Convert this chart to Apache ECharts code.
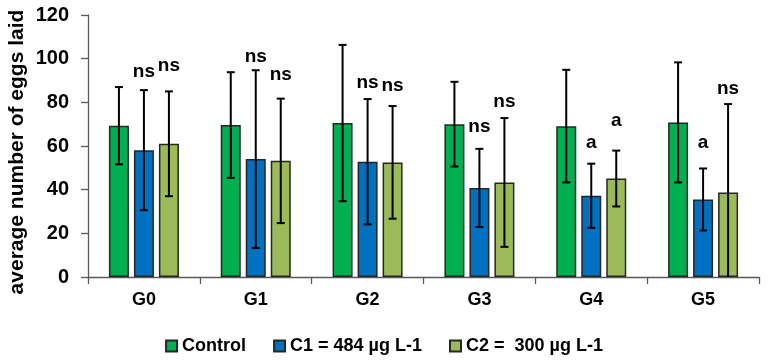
<!DOCTYPE html>
<html><head><meta charset="utf-8">
<script src="https://cdn.jsdelivr.net/npm/echarts@6/dist/echarts.min.js"></script>
<style>html,body{margin:0;padding:0;background:#fff}#c{width:768px;height:363px}</style>
</head><body><div id="c"></div>
<script>
var categories = ['G0','G1','G2','G3','G4','G5'];
var seriesNames = ['Control','C1 = 484 µg L-1','C2 =  300 µg L-1'];
var yTitle = 'average number of eggs laid';
var controlMean = [69.3, 69.6, 70.5, 70.0, 69.1, 70.8];
var controlErr  = [17.7, 24.2, 35.8, 19.4, 25.8, 27.5];
var c1Mean = [58.1, 54.0, 52.8, 40.8, 37.2, 35.5];
var c1Err  = [27.5, 40.7, 28.7, 17.9, 14.7, 14.2];
var c2Mean = [61.0, 53.2, 52.5, 43.3, 45.1, 38.7];
var c2Err  = [24.0, 28.5, 25.8, 29.5, 12.8, 40.5];
var c1Sig = ['ns','ns','ns','ns','a','a'];
var c2Sig = ['ns','ns','ns','ns','a','ns'];
var c1SigY = [93.9, 100.8, 88.9, 68.7, 61.3, 61.3];
var c2SigY = [96.7, 92.5, 87.5, 80.1, 71.4, 86.1];
var yTicks = [0, 20, 40, 60, 80, 100, 120];

var colors = ['#00B050', '#0070C0', '#9BBB59'];
var BAR_W = 20, GAP = 5;
var means = [controlMean, c1Mean, c2Mean];
var errs = [controlErr, c1Err, c2Err];
var FONT = '"Liberation Sans", Arial, sans-serif';

function offsetFor(k){ return (k - 1) * (BAR_W + GAP); }

var series = [];
for (var k = 0; k < 3; k++) {
  series.push({
    name: seriesNames[k], type: 'bar', data: means[k], barWidth: BAR_W, barGap: '25%',
    itemStyle: {color: colors[k], borderColor: '#262626', borderWidth: 1.5},
    z: 2
  });
}
for (var k = 0; k < 3; k++) {
  (function(k){
    var d = means[k].map(function(m, i){ return [i, m, errs[k][i]]; });
    series.push({
      type: 'custom', data: d, z: 5, clip: true, silent: true,
      renderItem: function(params, api){
        var i = api.value(0), m = api.value(1), e = api.value(2);
        var top = api.coord([i, m + e]);
        var bot = api.coord([i, m - e]);
        var x = top[0] + offsetFor(k);
        var cw = 4;
        return {type: 'group', children: [
          {type: 'line', shape: {x1: x, y1: top[1], x2: x, y2: bot[1]}, style: {stroke: '#000', lineWidth: 2}},
          {type: 'line', shape: {x1: x - cw, y1: top[1], x2: x + cw, y2: top[1]}, style: {stroke: '#000', lineWidth: 2}},
          {type: 'line', shape: {x1: x - cw, y1: bot[1], x2: x + cw, y2: bot[1]}, style: {stroke: '#000', lineWidth: 2}}
        ]};
      }
    });
  })(k);
}
var sigs = [[c1Sig, c1SigY, 1], [c2Sig, c2SigY, 2]];
sigs.forEach(function(s){
  var d = s[0].map(function(t, i){ return [i, s[1][i], t]; });
  series.push({
    type: 'custom', data: d, z: 6, silent: true,
    renderItem: function(params, api){
      var i = api.value(0), y = api.value(1);
      var p = api.coord([i, y]);
      return {type: 'text', x: p[0] + offsetFor(s[2]), y: p[1],
        style: {text: d[params.dataIndex][2], fill: '#000', font: 'bold 19px ' + FONT, align: 'center', verticalAlign: 'middle'}};
    }
  });
});

var chart = echarts.init(document.getElementById('c'));
chart.setOption({
  animation: false,
  grid: {left: 88, right: 9, top: 15, bottom: 86, outerBoundsMode: 'none', containLabel: false},
  graphic: [{
    type: 'text', x: 17, y: 152, rotation: Math.PI / 2,
    style: {text: yTitle, font: 'bold 21px ' + FONT, fill: '#000', align: 'center', verticalAlign: 'middle'}
  }],
  legend: {
    data: seriesNames, bottom: 3, left: 'center', icon: 'rect', itemWidth: 11, itemHeight: 11, itemGap: 27,
    textStyle: {fontSize: 18, fontWeight: 'bold', color: '#000', fontFamily: 'Liberation Sans'}
  },
  xAxis: {
    type: 'category', data: categories,
    axisLine: {lineStyle: {color: '#595959', width: 1.3}},
    axisTick: {show: true, length: 7, lineStyle: {color: '#595959', width: 1.3}},
    axisLabel: {fontSize: 18, fontWeight: 'bold', color: '#000', margin: 14, fontFamily: 'Liberation Sans'}
  },
  yAxis: {
    type: 'value', min: yTicks[0], max: yTicks[yTicks.length - 1], interval: 20,
    axisLine: {show: true, lineStyle: {color: '#595959', width: 1.3}},
    axisTick: {show: true, length: 7, lineStyle: {color: '#595959', width: 1.3}},
    splitLine: {show: false},
    axisLabel: {fontSize: 20, fontWeight: 'bold', color: '#000', margin: 19, fontFamily: 'Liberation Sans'}
  },
  series: series
});
</script></body></html>
